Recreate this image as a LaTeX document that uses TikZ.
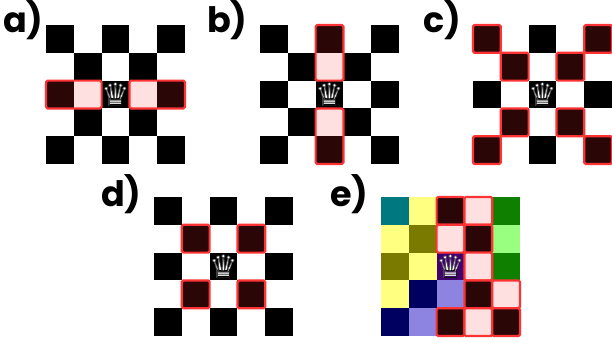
\documentclass[tikz,border=0pt]{standalone}
\usepackage{fontspec}
\setmainfont{Poppins}
\newfontfamily\chessfont{DejaVu Sans}
\usepackage{xcolor}
\usetikzlibrary{positioning}
\definecolor{hlred}{HTML}{FF3333}
\definecolor{hldark}{HTML}{2A0606}
\definecolor{hlpink}{HTML}{FFE0E0}
\definecolor{eteal}{HTML}{007880}
\definecolor{eyellow}{HTML}{FFFF80}
\definecolor{eolive}{HTML}{7A7A00}
\definecolor{egreen}{HTML}{0F7F00}
\definecolor{elime}{HTML}{99FF80}
\definecolor{enavy}{HTML}{000060}
\definecolor{eviolet}{HTML}{8C84E0}
\definecolor{epurple}{HTML}{400070}
\tikzset{
  % Board styles
  cell/.style={rectangle, minimum size=27.8pt, inner sep=0pt, outer sep=0pt, fill=#1},
  cell/.default={black},
  hlframe/.style={draw=hlred, line width=2.2pt, rounded corners=1.5pt},
  panel/.style={font=\fontsize{35}{35}\selectfont\bfseries, anchor=base west, inner sep=0pt},
  queenback/.style={font=\chessfont\fontsize{32}{32}\selectfont, text=white, inner sep=0pt, yshift=-0.6pt},
  queenfront/.style={font=\chessfont\fontsize{32}{32}\selectfont, text=black, inner sep=0pt, yshift=-0.6pt},
}
% Checker board, cells named prefix-row-col
\newcommand{\chessboard}[3]{
  \foreach \r in {0,...,4}
    \foreach \c in {0,...,4} {
      \pgfmathtruncatemacro{\odd}{mod(\r+\c,2)}
      \ifnum\odd=0
        \node[cell=black] (#1-\r-\c) at ({#2+13.9+27.8*\c},{#3+13.9+27.8*\r}) {};
      \else
        \node[cell=white] (#1-\r-\c) at ({#2+13.9+27.8*\c},{#3+13.9+27.8*\r}) {};
      \fi
    }
}
\newcommand{\queenat}[1]{
  \node[queenback] at (#1) {♛};
  \node[queenfront] at (#1) {♕};
}
\begin{document}
\begin{tikzpicture}[x=1pt, y=-1pt]
    \useasboundingbox (0,0) rectangle (612,345);

    % Labels
    \node[panel] (laba) at (3,33) {a)};
    \node[panel] (labb) at (207,33) {b)};
    \node[panel] (labc) at (423,33) {c)};
    \node[panel] (labd) at (101,206) {d)};
    \node[panel] (labe) at (330,206) {e)};

    % Board a
    \chessboard{a}{46}{25}
    \foreach \c/\col in {0/hldark,1/hlpink,3/hlpink,4/hldark}
      \fill[\col] (a-2-\c.north west) rectangle (a-2-\c.south east);
    \draw[hlframe] (a-2-0.north west) rectangle (a-2-1.south east);
    \draw[hlframe] (a-2-3.north west) rectangle (a-2-4.south east);
    \queenat{a-2-2}

    % Board b
    \chessboard{b}{260}{25}
    \foreach \r/\col in {0/hldark,1/hlpink,3/hlpink,4/hldark}
      \fill[\col] (b-\r-2.north west) rectangle (b-\r-2.south east);
    \draw[hlframe] (b-0-2.north west) rectangle (b-1-2.south east);
    \draw[hlframe] (b-3-2.north west) rectangle (b-4-2.south east);
    \queenat{b-2-2}

    % Board c
    \chessboard{c}{473}{25}
    \foreach \r/\c in {0/0,0/4,1/1,1/3,3/1,3/3,4/0,4/4}
      \draw[hlframe, fill=hldark] (c-\r-\c.north west) rectangle (c-\r-\c.south east);
    \queenat{c-2-2}

    % Board d
    \chessboard{d}{154}{197}
    \foreach \r/\c in {1/1,1/3,3/1,3/3}
      \draw[hlframe, fill=hldark] (d-\r-\c.north west) rectangle (d-\r-\c.south east);
    \queenat{d-2-2}

    % Board e
    \foreach \r/\c/\col in {0/0/eteal,0/1/eyellow,0/4/egreen,
        1/0/eyellow,1/1/eolive,1/4/elime,
        2/0/eolive,2/1/eyellow,2/2/epurple,2/4/egreen,
        3/0/eyellow,3/1/enavy,3/2/eviolet,
        4/0/enavy,4/1/eviolet}
      \node[cell=\col] (e-\r-\c) at ({381+13.9+27.8*\c},{197+13.9+27.8*\r}) {};
    \foreach \r/\c/\col in {0/2/hldark,0/3/hlpink,1/2/hlpink,1/3/hldark,2/3/hlpink,
        3/3/hldark,3/4/hlpink,4/2/hldark,4/3/hlpink,4/4/hldark}
      \node[cell=\col, hlframe] (e-\r-\c) at ({381+13.9+27.8*\c},{197+13.9+27.8*\r}) {};
    \queenat{e-2-2}
\end{tikzpicture}
\end{document}
